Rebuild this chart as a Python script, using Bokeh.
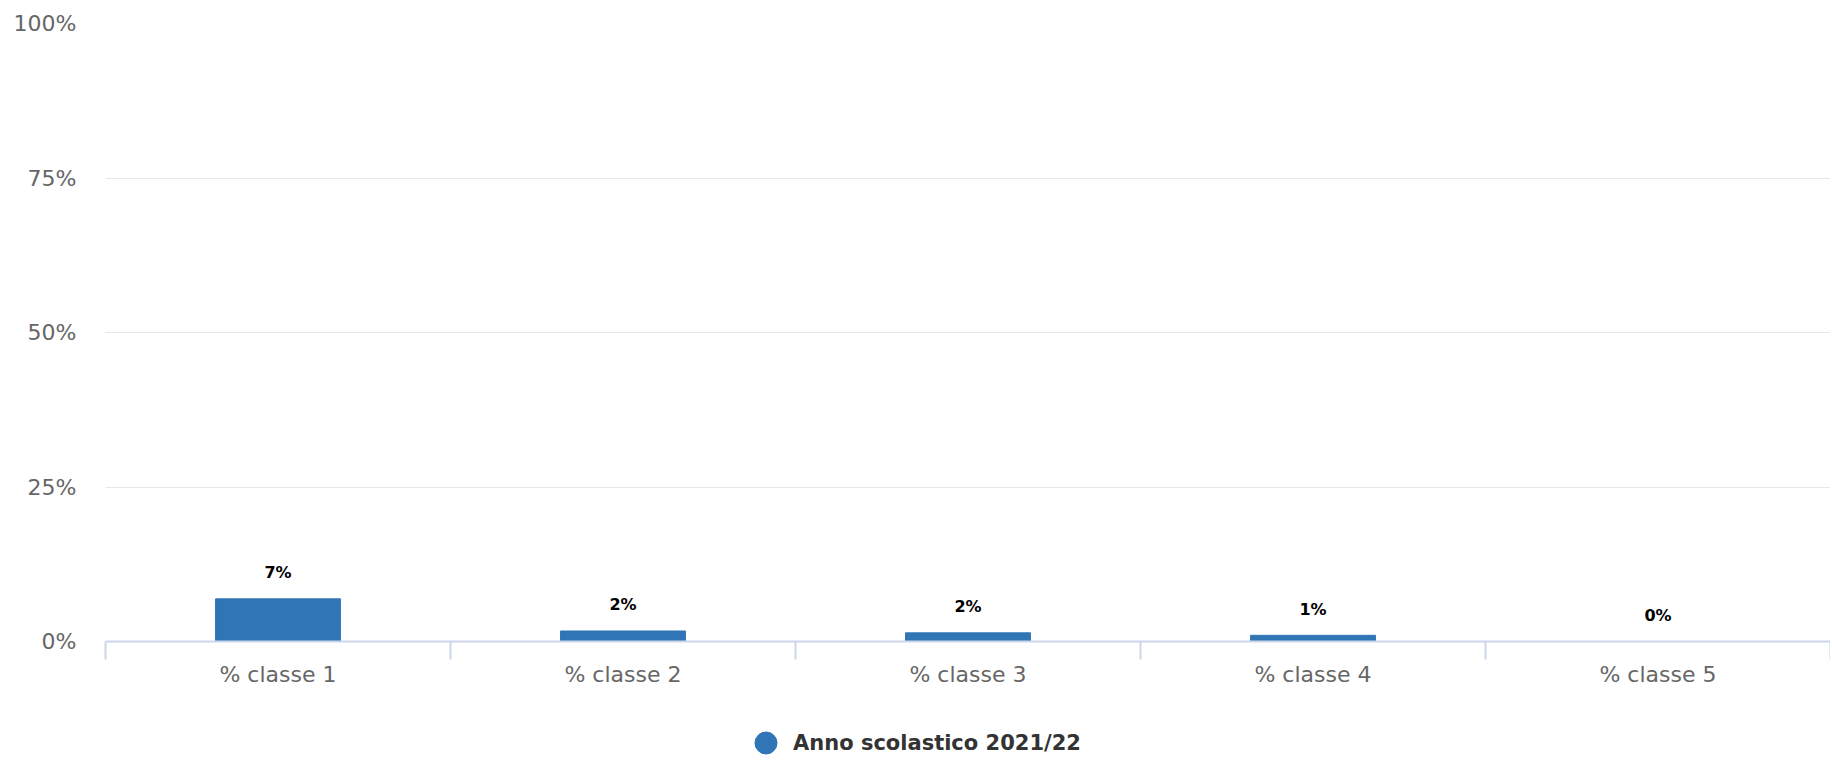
from bokeh.plotting import figure
from bokeh.layouts import column
from bokeh.models import (FactorRange, Range1d, LinearAxis, CategoricalAxis, FixedTicker,
                          ColumnDataSource, LabelSet, Legend, LegendItem)
from bokeh.core.properties import value
from bokeh.embed import file_html
from bokeh.resources import INLINE

categories = ["% classe 1", "% classe 2", "% classe 3", "% classe 4", "% classe 5"]
values = [6.9, 1.7, 1.4, 1.0, 0.0]
value_labels = ["7%", "2%", "2%", "1%", "0%"]
y_ticks = [0, 25, 50, 75, 100]
y_tick_labels = ["0%", "25%", "50%", "75%", "100%"]
series_name = "Anno scolastico 2021/22"

FONT = "DejaVu Sans"
BAR = "#3075b5"
AXIS = "#ccd6eb"
W = 1830

source = ColumnDataSource(dict(cat=categories, val=values, lab=value_labels))

p = figure(width=W, height=691,
           x_range=FactorRange(factors=categories, range_padding=0),
           y_range=Range1d(0, 100),
           output_backend="svg", toolbar_location=None, x_axis_location=None,
           min_border_left=105, min_border_right=0, min_border_top=23, min_border_bottom=50)
p.outline_line_color = None
p.background_fill_color = "white"

p.vbar(x="cat", top="val", width=0.362, source=source, fill_color=BAR, line_color=BAR)

# category boundary ticks + axis line
n = len(categories)
tick_axis = LinearAxis(ticker=FixedTicker(ticks=list(range(n + 1))),
                       axis_line_color=AXIS, axis_line_width=2,
                       major_tick_in=0, major_tick_out=18,
                       major_tick_line_color=AXIS, major_tick_line_width=2,
                       minor_tick_line_color=None,
                       major_label_overrides={i: "" for i in range(n + 1)},
                       major_label_text_font_size="1px", major_label_standoff=0)
p.add_layout(tick_axis, "below")

label_axis = CategoricalAxis(axis_line_color=None, major_tick_line_color=None,
                             minor_tick_line_color=None, major_label_standoff=-4,
                             major_label_text_font=FONT, major_label_text_font_size="22px",
                             major_label_text_color="#666666")
p.add_layout(label_axis, "below")

ya = p.yaxis[0]
ya.ticker = FixedTicker(ticks=y_ticks)
ya.major_label_overrides = {t: l for t, l in zip(y_ticks, y_tick_labels)}
ya.axis_line_color = None
ya.major_tick_line_color = None
ya.minor_tick_line_color = None
ya.major_tick_out = 0
ya.major_tick_in = 0
ya.major_label_standoff = 29
ya.major_label_text_font = FONT
ya.major_label_text_font_size = "22px"
ya.major_label_text_color = "#666666"

p.ygrid.ticker = FixedTicker(ticks=y_ticks)
p.ygrid.grid_line_color = "#e6e6e6"
p.ygrid.grid_line_width = 1
p.xgrid.grid_line_color = None

labels = LabelSet(x="cat", y="val", text="lab", source=source, y_offset=26,
                  text_align="center", text_baseline="middle",
                  text_font=value(FONT), text_font_size="16px", text_font_style="bold",
                  text_color="#000000")
p.add_layout(labels)

# legend strip below the chart (frame aligned with the chart's frame)
leg = figure(width=W, height=71, output_backend="svg", toolbar_location=None,
             x_axis_location=None, y_axis_location=None,
             x_range=Range1d(0, 1), y_range=Range1d(0, 1),
             min_border_left=0, min_border_right=0, min_border_top=0, min_border_bottom=0)
leg.outline_line_color = None
leg.xgrid.grid_line_color = None
leg.ygrid.grid_line_color = None
nan = float("nan")
dummy = leg.scatter(x=[nan], y=[nan], marker="circle", fill_color=BAR, line_color=BAR)
legend = Legend(items=[LegendItem(label=series_name, renderers=[dummy])],
                location=(633, -8), orientation="horizontal",
                glyph_width=55, glyph_height=55, label_standoff=0,
                padding=0, margin=0, border_line_color=None, background_fill_alpha=0,
                label_text_font=FONT, label_text_font_size="21px",
                label_text_font_style="bold", label_text_color="#333333")
leg.add_layout(legend, "center")

layout = column(p, leg, spacing=0)
open("out.html", "w").write(file_html(layout, INLINE))
